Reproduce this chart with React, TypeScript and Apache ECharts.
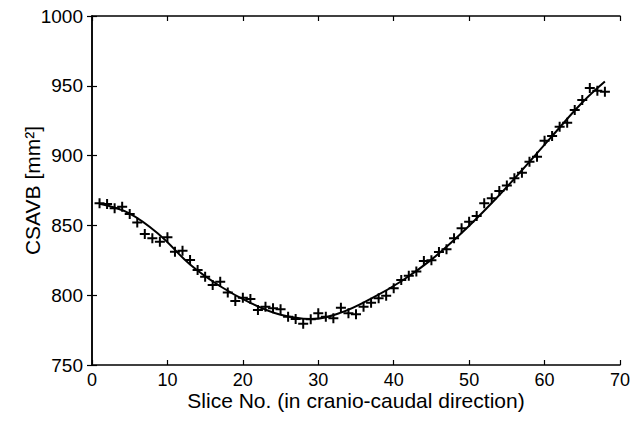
import React, { useEffect, useRef } from "react";
import * as echarts from "echarts";

const slices = [
  1, 2, 3, 4, 5, 6, 7, 8, 9, 10, 11, 12, 13, 14, 15, 16, 17, 18, 19, 20, 21, 22, 23, 24, 25, 26, 27, 28, 29, 30, 31, 32, 33, 34,
  35, 36, 37, 38, 39, 40, 41, 42, 43, 44, 45, 46, 47, 48, 49, 50, 51, 52, 53, 54, 55, 56, 57, 58, 59, 60, 61, 62, 63, 64, 65, 66, 67, 68,
];
const csavb = [
  865.8, 865.3, 862.2, 863.4, 858.2, 852, 843.8, 840.8, 838.3, 841.5, 831.2, 831.9, 825.2, 818, 813.3, 807.3, 809.7, 802, 795.8, 798.2,
  797.3, 789.4, 791.8, 790.6, 789.9, 784.6, 782.9, 779.5, 782.7, 787, 784.6, 783.4, 791, 787, 786.3, 791.8, 794.6, 797.8, 799.6, 805,
  810.9, 814, 817, 824.5, 825, 831, 833, 840.8, 848, 852.6, 856.7, 865.8, 869.4, 874.6, 878.5, 883.7, 887.8, 895.6, 899.2, 910.7,
  914, 920.7, 923.5, 932.7, 939.8, 948.4, 946.5, 945.8,
];
const fitX = [1, 5, 9, 13, 17, 21, 25, 29, 33, 37, 41, 45, 49, 53, 57, 61, 65, 68];
const fitY = [865.5, 858.5, 843, 822, 806.4, 794.5, 786, 783, 787.5, 797.5, 810, 825.5, 844.5, 866, 889.5, 914, 938, 953];

const xTicks = { min: 0, max: 70, interval: 10 };
const yTicks = { min: 750, max: 1000, interval: 50 };

const FONT = "Liberation Sans";

export default function App() {
  const ref = useRef<HTMLDivElement>(null);
  useEffect(() => {
    if (!ref.current) return;
    const chart = echarts.init(ref.current, null, { renderer: "svg" });
    const axisLine = { show: true, lineStyle: { color: "#000", width: 1.5 } };
    const axisTick = { show: true, inside: true, length: 5, lineStyle: { color: "#000", width: 1.2 } };
    chart.setOption({
      animation: false,
      backgroundColor: "#fff",
      grid: { left: 92, right: 12, top: 16, bottom: 58, containLabel: false },
      xAxis: [
        {
          type: "value",
          ...xTicks,
          name: "Slice No. (in cranio-caudal direction)",
          nameLocation: "middle",
          nameGap: 25,
          nameMoveOverlap: false,
          nameTextStyle: { color: "#000", fontSize: 21, fontFamily: FONT },
          axisLine,
          axisTick,
          splitLine: { show: false },
          axisLabel: { color: "#000", fontSize: 18, fontFamily: FONT, margin: 6, formatter: (v: number) => String(v) },
        },
        {
          type: "value",
          position: "top",
          ...xTicks,
          axisLine,
          axisTick,
          splitLine: { show: false },
          axisLabel: { show: false },
        },
      ],
      yAxis: [
        {
          type: "value",
          ...yTicks,
          name: "CSAVB [mm²]",
          nameLocation: "middle",
          nameGap: 49,
          nameMoveOverlap: false,
          nameTextStyle: { color: "#000", fontSize: 21, fontFamily: FONT },
          axisLine,
          axisTick,
          splitLine: { show: false },
          axisLabel: { color: "#000", fontSize: 19, fontFamily: FONT, margin: 9, formatter: (v: number) => String(v) },
        },
        {
          type: "value",
          position: "right",
          ...yTicks,
          axisLine,
          axisTick,
          splitLine: { show: false },
          axisLabel: { show: false },
        },
      ],
      series: [
        {
          type: "scatter",
          data: slices.map((s, i) => [s, csavb[i]]),
          symbol: "path://M3.6,0H5.4V3.6H9V5.4H5.4V9H3.6V5.4H0V3.6H3.6Z",
          symbolSize: 10,
          itemStyle: { color: "#000", opacity: 1 },
          z: 3,
        },
        {
          type: "line",
          data: fitX.map((s, i) => [s, fitY[i]]),
          smooth: 0.4,
          showSymbol: false,
          symbol: "none",
          lineStyle: { color: "#000", width: 2 },
          z: 2,
        },
      ],
    });
    return () => chart.dispose();
  }, []);
  return <div ref={ref} style={{ width: 633, height: 423, position: "absolute", left: 0, top: 0 }} />;
}
